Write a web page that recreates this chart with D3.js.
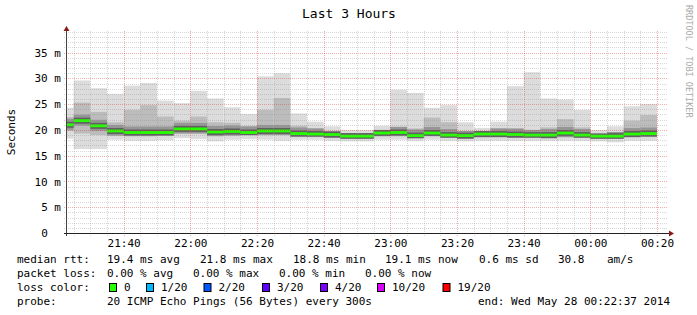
<!DOCTYPE html>
<html>
<head>
<meta charset="utf-8">
<script src="https://cdn.jsdelivr.net/npm/d3@7"></script>
<style>
  body { margin: 0; background: #fff; }
  svg { display: block; font-family: "DejaVu Sans Mono", monospace; }
  text { white-space: pre; }
</style>
</head>
<body>
<div id="chart"></div>
<script>
// 5 minute rounds (start of each step), 20 pings each
let times = ["21:20","21:25","21:30","21:35","21:40","21:45","21:50","21:55","22:00","22:05","22:10","22:15",
             "22:20","22:25","22:30","22:35","22:40","22:45","22:50","22:55","23:00","23:05","23:10","23:15",
             "23:20","23:25","23:30","23:35","23:40","23:45","23:50","23:55","00:00","00:05","00:10","00:15"];

// values in ms
let medianRtt = [21.0,21.8,20.8,19.8,19.5,19.5,19.5,20.2,20.2,19.6,19.7,19.5,19.8,19.8,19.3,19.2,19.1,18.8,
                 18.8,19.4,19.5,18.9,19.4,19.0,18.9,19.2,19.2,19.1,19.0,19.0,19.4,19.0,18.8,18.8,19.2,19.3];
let minRtt = [18.3,16.3,16.3,18.1,17.9,17.9,18.0,18.4,18.2,17.8,18.1,18.2,18.1,17.9,18.1,18.1,17.9,17.8,
              17.8,18.1,18.1,17.9,18.1,17.9,17.8,17.9,17.9,17.9,17.9,17.9,17.9,17.9,17.8,17.6,17.9,17.9];
let lowRtt = [19.8,19.3,19.0,18.9,18.8,18.8,18.9,19.3,19.3,18.8,18.9,19.0,19.0,19.0,18.7,18.7,18.5,18.3,
              18.3,18.8,18.8,18.4,18.8,18.5,18.3,18.6,18.6,18.5,18.5,18.4,18.6,18.5,18.3,18.3,18.6,18.7];
let highRtt = [22.5,25.3,23.5,21.5,23.9,24.8,22.6,21.8,22.6,21.5,21.4,20.8,23.9,26.2,20.8,20.3,19.8,19.4,
               19.4,20.0,20.6,20.3,22.4,21.5,19.8,19.8,20.3,20.3,20.0,20.5,22.1,20.5,19.3,19.6,21.8,22.9];
let maxRtt = [24.3,29.6,28.1,27.0,28.6,29.1,25.7,25.2,27.6,26.1,24.4,23.1,30.4,31.0,23.2,21.6,20.7,20.0,
              20.0,20.8,27.8,27.2,24.3,24.8,21.5,20.4,21.6,28.5,31.2,26.1,25.9,23.9,20.0,20.7,24.6,25.0];

let yTicks = [0, 5, 10, 15, 20, 25, 30, 35];

let lossLabels = ["0", "1/20", "2/20", "3/20", "4/20", "10/20", "19/20"];
let lossColors = ["#26ff00", "#00b8ff", "#0059ff", "#5e00ff", "#7e00ff", "#dd00ff", "#ff0000"];

function toDate(s) {
    let h = +s.slice(0, 2), m = +s.slice(3, 5);
    return h < 12 ? new Date(2014, 4, 28, h, m) : new Date(2014, 4, 27, h, m);
}

let width = 697, height = 315;
let plot = { left: 67, right: 667, top: 31, bottom: 233 };

let x = d3.scaleTime()
    .domain([new Date(2014, 4, 27, 21, 23), new Date(2014, 4, 28, 0, 23)])
    .range([plot.left, plot.right]);

let y = d3.scaleLinear()
    .domain([0, 39.2])
    .range([plot.bottom, plot.top]);

let svg = d3.select('#chart').append('svg')
    .attr('width', width)
    .attr('height', height);

svg.append('defs').append('clipPath').attr('id', 'plotclip')
    .append('rect')
    .attr('x', plot.left).attr('y', plot.top)
    .attr('width', plot.right - plot.left).attr('height', plot.bottom - plot.top);

let data = times.map(function (t, i) {
    let t0 = toDate(t);
    return {
        t0: t0, t1: d3.timeMinute.offset(t0, 5),
        min: minRtt[i], low: lowRtt[i], med: medianRtt[i], high: highRtt[i], max: maxRtt[i]
    };
});

let smoke = svg.append('g').attr('clip-path', 'url(#plotclip)');

// outer smoke
smoke.selectAll('rect.outer').data(data).enter().append('rect')
    .attr('class', 'outer')
    .attr('x', d => x(d.t0))
    .attr('width', d => x(d.t1) - x(d.t0))
    .attr('y', d => y(d.max))
    .attr('height', d => y(d.min) - y(d.max))
    .attr('fill', '#dcdcdc');

// inner smoke
smoke.selectAll('rect.inner').data(data).enter().append('rect')
    .attr('class', 'inner')
    .attr('x', d => x(d.t0))
    .attr('width', d => x(d.t1) - x(d.t0))
    .attr('y', d => y(d.high))
    .attr('height', d => y(d.low) - y(d.high))
    .attr('fill', '#bcbcbc');

// darker part near the median
smoke.selectAll('rect.mid').data(data).enter().append('rect')
    .attr('class', 'mid')
    .attr('x', d => x(d.t0))
    .attr('width', d => x(d.t1) - x(d.t0))
    .attr('y', d => Math.max(y(d.high), y(d.med) - 6))
    .attr('height', d => Math.min(y(d.low), y(d.med) + 5) - Math.max(y(d.high), y(d.med) - 6))
    .attr('fill', '#969696');

smoke.selectAll('rect.core').data(data).enter().append('rect')
    .attr('class', 'core')
    .attr('x', d => x(d.t0))
    .attr('width', d => x(d.t1) - x(d.t0))
    .attr('y', d => Math.max(y(d.high), y(d.med) - 3))
    .attr('height', d => Math.min(y(d.low), y(d.med) + 3) - Math.max(y(d.high), y(d.med) - 3))
    .attr('fill', '#606060');

// grid on top
let grid = svg.append('g');
let minorX = d3.timeMinute.every(5).range(x.domain()[0], x.domain()[1]);
let majorX = d3.timeMinute.every(20).range(x.domain()[0], x.domain()[1]);
let minorY = d3.range(1, 40).filter(v => v % 5 !== 0 && y(v) >= plot.top);

grid.selectAll('line.gx').data(minorX.filter(d => d.getMinutes() % 20 !== 0)).enter().append('line')
    .attr('x1', d => Math.round(x(d)) + 0.5).attr('x2', d => Math.round(x(d)) + 0.5)
    .attr('y1', plot.top).attr('y2', plot.bottom + 3)
    .attr('stroke', 'rgba(140,140,140,0.35)').attr('stroke-dasharray', '1,1');
grid.selectAll('line.gy').data(minorY).enter().append('line')
    .attr('x1', plot.left - 3).attr('x2', plot.right + 1)
    .attr('y1', d => Math.round(y(d)) + 0.5).attr('y2', d => Math.round(y(d)) + 0.5)
    .attr('stroke', 'rgba(140,140,140,0.35)').attr('stroke-dasharray', '1,1');
grid.selectAll('line.mx').data(majorX).enter().append('line')
    .attr('x1', d => Math.round(x(d)) + 0.5).attr('x2', d => Math.round(x(d)) + 0.5)
    .attr('y1', plot.top).attr('y2', plot.bottom + 3)
    .attr('stroke', 'rgba(220,50,50,0.4)').attr('stroke-dasharray', '1,1');
grid.selectAll('line.my').data(yTicks.slice(1)).enter().append('line')
    .attr('x1', plot.left - 3).attr('x2', plot.right + 1)
    .attr('y1', d => Math.round(y(d)) + 0.5).attr('y2', d => Math.round(y(d)) + 0.5)
    .attr('stroke', 'rgba(220,50,50,0.4)').attr('stroke-dasharray', '1,1');

// median line
smoke.selectAll('rect.med').data(data).enter().append('rect')
    .attr('class', 'med')
    .attr('x', d => x(d.t0))
    .attr('width', d => x(d.t1) - x(d.t0))
    .attr('y', d => y(d.med) - 1.4)
    .attr('height', 2.8)
    .attr('fill', lossColors[0]);

// axes lines and arrows
svg.append('line')
    .attr('x1', plot.left - 0.5).attr('x2', plot.left - 0.5)
    .attr('y1', plot.bottom + 3).attr('y2', 28)
    .attr('stroke', '#444');
svg.append('line')
    .attr('x1', plot.left - 3).attr('x2', 671)
    .attr('y1', plot.bottom + 0.5).attr('y2', plot.bottom + 0.5)
    .attr('stroke', '#222');
svg.append('path')
    .attr('d', 'M' + (plot.left - 3.5) + ',31 L' + (plot.left + 2.5) + ',31 L' + (plot.left - 0.5) + ',26 Z')
    .attr('fill', '#8b1a1a');
svg.append('path')
    .attr('d', 'M669,' + (plot.bottom - 2.5) + ' L669,' + (plot.bottom + 3.5) + ' L674,' + (plot.bottom + 0.5) + ' Z')
    .attr('fill', '#8b1a1a');

// axis labels through d3 axes
let xAxis = d3.axisBottom(x)
    .tickValues(majorX)
    .tickFormat(d3.timeFormat('%H:%M'))
    .tickSize(0).tickPadding(6);
let gx = svg.append('g').attr('transform', 'translate(0,' + plot.bottom + ')').call(xAxis);
gx.select('.domain').remove();
gx.selectAll('text').attr('font-family', 'DejaVu Sans Mono').attr('font-size', 11).attr('fill', '#000');

let yAxis = d3.axisLeft(y)
    .tickValues(yTicks)
    .tickFormat(v => v === 0 ? '0\u00a0\u00a0' : v + '\u00a0m')
    .tickSize(0).tickPadding(6);
let gy = svg.append('g').attr('transform', 'translate(' + plot.left + ',0)').call(yAxis);
gy.select('.domain').remove();
gy.selectAll('text').attr('font-family', 'DejaVu Sans Mono').attr('font-size', 11).attr('fill', '#000');

// title and side texts
svg.append('text')
    .attr('x', 349).attr('y', 18)
    .attr('text-anchor', 'middle')
    .attr('font-size', 13)
    .text('Last 3 Hours');

svg.append('text')
    .attr('transform', 'translate(15,132) rotate(-90)')
    .attr('text-anchor', 'middle')
    .attr('font-size', 11)
    .text('Seconds');

svg.append('text')
    .attr('transform', 'translate(686,5) rotate(90)')
    .attr('font-size', 8.5)
    .attr('fill', '#aaa')
    .text('RRDTOOL / TOBI OETIKER');

// legend
let legend = svg.append('g').attr('font-size', 11).attr('fill', '#000');
let line1 = [[17, 'median rtt:'], [107, '19.4 ms avg'], [200, '21.8 ms max'], [293, '18.8 ms min'],
             [385, '19.1 ms now'], [479, '0.6 ms sd'], [558, '30.8'], [607, 'am/s']];
let line2 = [[17, 'packet loss:'], [107, '0.00 % avg'], [193, '0.00 % max'], [279, '0.00 % min'], [365, '0.00 % now']];
let line4 = [[17, 'probe:'], [107, '20 ICMP Echo Pings (56 Bytes) every 300s'], [478, 'end: Wed May 28 00:22:37 2014']];

function legendLine(items, yy) {
    legend.selectAll(null).data(items).enter().append('text')
        .attr('x', d => d[0]).attr('y', yy)
        .text(d => d[1]);
}
legendLine(line1, 263);
legendLine(line2, 277);
legendLine(line4, 305);

legend.append('text').attr('x', 17).attr('y', 291).text('loss color:');
let swatchX = [109, 146, 203.5, 262, 320, 377, 442.5];
lossLabels.forEach(function (lbl, i) {
    legend.append('rect')
        .attr('x', swatchX[i] + 0.5).attr('y', 283.5)
        .attr('width', 7).attr('height', 8)
        .attr('fill', lossColors[i]).attr('stroke', '#000');
    legend.append('text').attr('x', swatchX[i] + 15).attr('y', 291).text(lbl);
});
</script>
</body>
</html>
